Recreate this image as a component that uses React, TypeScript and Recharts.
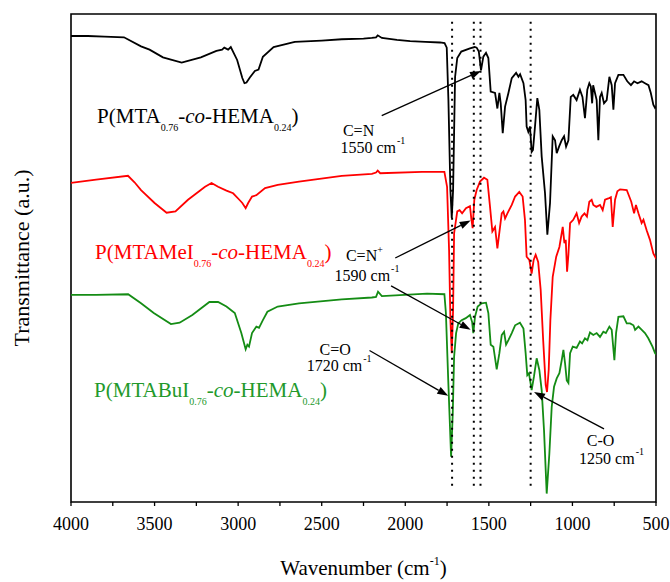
import React from 'react';
import { ComposedChart, Line, XAxis, YAxis, ReferenceLine, ReferenceDot, ReferenceArea } from 'recharts';

const FONT = '"Liberation Serif", "Times New Roman", serif';
const RED = '#ff0000';
const GREEN = '#148c14';
const GREEN_TEXT = '#22992a';

// [wavenumber (cm-1), transmittance (a.u., traces offset)]
const mtaSpectrum: [number, number][] = [
  [4000, 6.66], [3900, 6.66], [3800, 6.65], [3683, 6.64], [3581, 6.5], [3530, 6.45], [3450, 6.33],
  [3338, 6.25], [3223, 6.33], [3130, 6.43], [3096, 6.45], [3083, 6.48], [3060, 6.45], [3044, 6.49],
  [3006, 6.29], [2975, 6.01], [2962, 5.93], [2950, 5.94], [2930, 6.02], [2900, 6.12], [2878, 6.14],
  [2852, 6.34], [2788, 6.49], [2661, 6.57], [2500, 6.59], [2380, 6.61], [2250, 6.62], [2200, 6.63],
  [2175, 6.64], [2165, 6.67], [2140, 6.63], [2050, 6.6], [1971, 6.58], [1880, 6.57], [1792, 6.56],
  [1765, 6.55], [1752, 6.48], [1742, 5.67], [1730, 4.28], [1722, 3.85], [1714, 4.28], [1708, 5.16],
  [1702, 6.03], [1689, 6.32], [1665, 6.42], [1613, 6.47], [1585, 6.49], [1573, 6.48], [1560, 6.42],
  [1547, 6.13], [1533, 6.34], [1517, 6.4], [1503, 6.32], [1489, 5.8], [1463, 5.78], [1449, 5.54],
  [1437, 5.78], [1429, 5.62], [1417, 5.16], [1403, 5.57], [1383, 5.78], [1363, 6.01], [1337, 6.09],
  [1323, 6.03], [1313, 6.07], [1293, 5.93], [1280, 5.67], [1274, 5.26], [1264, 5.18], [1254, 5.26],
  [1244, 4.87], [1236, 4.9], [1224, 5.26], [1210, 5.7], [1198, 5.52], [1184, 4.8], [1164, 4.23],
  [1150, 3.59], [1134, 4.08], [1118, 5.11], [1104, 5.05], [1094, 4.85], [1080, 4.95], [1064, 5.05],
  [1050, 5.11], [1038, 4.95], [1024, 5.05], [1010, 5.72], [995, 5.75], [975, 5.67], [955, 5.83],
  [940, 5.72], [925, 5.39], [911, 5.83], [899, 5.93], [890, 5.88], [882, 5.62], [876, 5.9],
  [855, 5.67], [845, 5.05], [835, 5.72], [825, 5.78], [811, 5.62], [795, 5.67], [779, 6.03],
  [765, 5.9], [755, 5.52], [745, 5.93], [725, 6.06], [695, 6.06], [672, 5.96], [650, 5.9],
  [631, 5.96], [611, 5.93], [586, 5.96], [566, 5.93], [545, 5.9], [531, 5.78], [516, 5.6],
  [506, 5.55], [500, 5.57],
];

const mtaMeISpectrum: [number, number][] = [
  [4000, 4.39], [3850, 4.44], [3659, 4.5], [3620, 4.4], [3581, 4.28], [3500, 4.08], [3428, 3.93],
  [3375, 3.95], [3300, 4.13], [3198, 4.33], [3159, 4.39], [3120, 4.33], [3070, 4.27], [3030, 4.23],
  [2993, 4.13], [2975, 4.08], [2955, 4.0], [2940, 4.08], [2917, 4.18], [2891, 4.2], [2839, 4.31],
  [2763, 4.36], [2636, 4.41], [2380, 4.5], [2200, 4.53], [2175, 4.55], [2165, 4.58], [2150, 4.54],
  [1900, 4.56], [1766, 4.56], [1750, 4.33], [1738, 3.35], [1730, 2.27], [1722, 1.76], [1714, 2.43],
  [1708, 3.61], [1689, 3.95], [1675, 3.97], [1660, 3.92], [1637, 4.0], [1613, 4.03], [1605, 3.84],
  [1597, 3.69], [1587, 4.13], [1573, 4.28], [1553, 4.41], [1529, 4.47], [1509, 4.44], [1493, 4.02],
  [1479, 3.64], [1463, 3.71], [1449, 3.38], [1433, 3.71], [1423, 3.92], [1413, 3.95], [1403, 3.84],
  [1389, 3.92], [1363, 4.05], [1343, 4.18], [1318, 4.25], [1298, 4.18], [1284, 3.82], [1274, 3.25],
  [1258, 3.2], [1244, 2.99], [1232, 3.2], [1220, 3.28], [1205, 3.17], [1190, 2.74], [1175, 1.96],
  [1160, 1.27], [1152, 1.16], [1142, 1.5], [1132, 2.27], [1118, 2.94], [1097, 3.25], [1078, 3.4],
  [1058, 3.71], [1048, 3.46], [1040, 3.51], [1032, 3.02], [1024, 3.28], [1014, 3.77], [995, 3.82],
  [975, 3.92], [960, 3.77], [945, 3.87], [928, 3.92], [913, 3.87], [899, 4.1], [885, 4.13],
  [875, 4.05], [857, 4.02], [835, 4.05], [819, 3.97], [805, 4.13], [785, 4.15], [770, 4.17],
  [759, 3.71], [745, 4.13], [731, 4.26], [715, 4.29], [675, 4.28], [660, 4.18], [648, 4.1],
  [631, 3.92], [620, 4.05], [605, 3.92], [586, 3.77], [575, 3.82], [556, 3.66], [536, 3.51],
  [516, 3.3], [505, 3.25], [500, 3.22],
];

const mtaBuISpectrum: [number, number][] = [
  [4000, 2.66], [3850, 2.66], [3658, 2.67], [3581, 2.53], [3505, 2.38], [3402, 2.21], [3350, 2.23],
  [3274, 2.35], [3172, 2.55], [3120, 2.55], [3070, 2.48], [3020, 2.38], [2981, 2.07], [2955, 1.82],
  [2945, 1.89], [2935, 1.86], [2917, 2.07], [2891, 2.17], [2875, 2.15], [2852, 2.27], [2825, 2.4],
  [2763, 2.48], [2636, 2.53], [2380, 2.59], [2200, 2.62], [2175, 2.63], [2163, 2.71], [2140, 2.64],
  [1870, 2.68], [1766, 2.67], [1757, 2.38], [1743, 1.34], [1726, 0.16], [1716, 0.83], [1708, 1.7],
  [1696, 2.07], [1683, 2.22], [1663, 2.27], [1638, 2.3], [1613, 2.35], [1600, 2.24], [1593, 2.07],
  [1583, 2.32], [1567, 2.48], [1543, 2.53], [1517, 2.54], [1503, 2.38], [1489, 1.89], [1473, 1.86],
  [1453, 1.51], [1437, 1.76], [1423, 2.04], [1409, 2.09], [1397, 1.89], [1383, 1.96], [1363, 2.07],
  [1343, 2.19], [1314, 2.23], [1293, 2.14], [1280, 1.76], [1270, 1.42], [1260, 1.45], [1244, 1.19],
  [1230, 1.4], [1214, 1.68], [1198, 1.5], [1184, 1.19], [1170, 0.57], [1154, -0.41], [1138, 0.21],
  [1124, 0.93], [1110, 1.24], [1094, 1.37], [1078, 1.45], [1064, 1.65], [1054, 1.81], [1044, 1.6],
  [1034, 1.34], [1024, 1.3], [1014, 1.76], [998, 1.86], [975, 1.84], [955, 1.94], [942, 1.91],
  [925, 1.99], [910, 1.96], [895, 2.08], [875, 2.04], [855, 2.07], [835, 2.01], [815, 2.09],
  [800, 2.07], [779, 2.17], [765, 2.12], [749, 1.65], [739, 2.07], [725, 2.32], [695, 2.33],
  [675, 2.22], [655, 2.22], [635, 2.19], [625, 2.12], [605, 2.17], [585, 2.12], [566, 2.07],
  [546, 1.99], [521, 1.86], [506, 1.76], [500, 1.74],
];

const xTicks = [4000, 3750, 3500, 3250, 3000, 2750, 2500, 2250, 2000, 1750, 1500, 1250, 1000, 750, 500];
const yTicks = [0, 1, 2, 3, 4, 5, 6];
const bandLines = [1720, 1590, 1550, 1250];

const Y_MIN = -0.54;
const Y_MAX = 7;

// annotation layout (data coordinates)
const arrows = [
  { from: [2141, 5.43], to: [1547, 6.12] },
  { from: [2060, 3.23], to: [1609, 3.81] },
  { from: [2085, 2.8], to: [1609, 2.12] },
  { from: [2214, 1.8], to: [1743, 1.1] },
  { from: [811, 0.59], to: [1230, 1.16] },
];

const notes = [
  { at: [2373, 5.12], head: 'C=N', sup: '', band: '1550 cm', dx: -2.5, dy: 17 },
  { at: [2355, 3.18], head: 'C=N', sup: '+', band: '1590 cm', dx: -11.4, dy: 20 },
  { at: [2513, 1.73], head: 'C=O', sup: '', band: '1720 cm', dx: -12.8, dy: 15.5 },
  { at: [914, 0.33], head: 'C-O', sup: '', band: '1250 cm', dx: -7.7, dy: 18.3 },
];

const seriesLabels = [
  { at: [3844, 5.31], name: 'MTA', color: '#000' },
  { at: [3856, 3.21], name: 'MTAMeI', color: RED },
  { at: [3862, 1.08], name: 'MTABuI', color: GREEN_TEXT },
];

const toRows = (s: [number, number][]) => s.map(([wn, t]) => ({ wn, t }));

const Arrow = (p: any) => {
  const { x1, y1, x2, y2 } = p;
  const a = Math.atan2(y2 - y1, x2 - x1);
  const len = 11;
  const half = 3.8;
  const bx = x2 - len * Math.cos(a);
  const by = y2 - len * Math.sin(a);
  const nx = -Math.sin(a) * half;
  const ny = Math.cos(a) * half;
  return (
    <g>
      <line x1={x1} y1={y1} x2={bx} y2={by} stroke="#000" strokeWidth={1.3} />
      <polygon points={`${x2},${y2} ${bx + nx},${by + ny} ${bx - nx},${by - ny}`} fill="#000" />
    </g>
  );
};

const Note = ({ cx, cy, n }: any) => (
  <g fontFamily={FONT} fontSize={16} fill="#000">
    <text x={cx} y={cy}>
      {n.head}
      {n.sup && <tspan fontSize={10} dy={-8}>{n.sup}</tspan>}
    </text>
    <text x={cx + n.dx} y={cy + n.dy}>
      {n.band}
      <tspan fontSize={10} dx={1} dy={-9}>-1</tspan>
    </text>
  </g>
);

const SeriesLabel = ({ cx, cy, s }: any) => (
  <text x={cx} y={cy} fontFamily={FONT} fontSize={21} fill={s.color}>
    P({s.name}
    <tspan fontSize={10} dy={8}>0.76</tspan>
    <tspan dy={-8}>-</tspan>
    <tspan fontStyle="italic">co</tspan>
    <tspan>-HEMA</tspan>
    <tspan fontSize={10} dy={8}>0.24</tspan>
    <tspan dy={-8}>)</tspan>
  </text>
);

const XTick = (p: any) => {
  const { x, y, payload } = p;
  if (payload.value % 500 !== 0) return null;
  return (
    <text x={x} y={y} dy={22} textAnchor="middle" fontFamily={FONT} fontSize={18} fill="#000">
      {payload.value}
    </text>
  );
};

const XTitle = (p: any) => {
  const vb = p.viewBox || { x: 71, width: 585, y: 502 };
  return (
    <text x={vb.x + vb.width / 2} y={575} textAnchor="middle" fontFamily={FONT} fontSize={21} fill="#000">
      Wavenumber (cm
      <tspan fontSize={12} dy={-10}>-1</tspan>
      <tspan dy={10}>)</tspan>
    </text>
  );
};

const YTitle = () => (
  <text
    x={29}
    y={258}
    transform="rotate(-90 29 258)"
    textAnchor="middle"
    fontFamily={FONT}
    fontSize={22}
    fill="#000"
  >
    Transmittance (a.u.)
  </text>
);

export default function App() {
  return (
    <div style={{ width: 670, height: 582, background: '#fff' }}>
      <style>{'body{margin:0}'}</style>
      <ComposedChart width={670} height={582} margin={{ top: 14, right: 14, bottom: 50, left: 71 }}>
        <XAxis
          type="number"
          dataKey="wn"
          domain={[500, 4000]}
          reversed
          allowDataOverflow
          ticks={xTicks}
          interval={0}
          tickSize={4}
          tickLine={{ stroke: '#000', strokeWidth: 1.3 }}
          axisLine={false}
          tick={<XTick />}
          height={30}
          label={{ content: <XTitle /> }}
        />
        <YAxis
          yAxisId="l"
          orientation="left"
          mirror
          type="number"
          domain={[Y_MIN, Y_MAX]}
          allowDataOverflow
          ticks={yTicks}
          tick={false}
          tickSize={4}
          tickLine={{ stroke: '#000', strokeWidth: 1.3 }}
          axisLine={false}
          width={10}
          label={{ content: <YTitle /> }}
        />
        <YAxis
          yAxisId="r"
          orientation="right"
          mirror
          type="number"
          domain={[Y_MIN, Y_MAX]}
          allowDataOverflow
          ticks={yTicks}
          tick={false}
          tickSize={4}
          tickLine={{ stroke: '#000', strokeWidth: 1.3 }}
          axisLine={false}
          width={10}
        />
        <Line yAxisId="l" data={toRows(mtaSpectrum)} dataKey="t" type="linear" stroke="#000" strokeWidth={1.8} dot={false} activeDot={false} isAnimationActive={false} />
        <Line yAxisId="l" data={toRows(mtaMeISpectrum)} dataKey="t" type="linear" stroke={RED} strokeWidth={1.8} dot={false} activeDot={false} isAnimationActive={false} />
        <Line yAxisId="l" data={toRows(mtaBuISpectrum)} dataKey="t" type="linear" stroke={GREEN} strokeWidth={1.8} dot={false} activeDot={false} isAnimationActive={false} />
        {bandLines.map((wn) => (
          <ReferenceLine
            key={wn}
            yAxisId="l"
            segment={[{ x: wn, y: 6.88 }, { x: wn, y: -0.36 }]}
            stroke="#000"
            strokeWidth={2}
            strokeDasharray="2 5"
            ifOverflow="visible"
          />
        ))}
        {arrows.map((a, i) => (
          <ReferenceLine
            key={'a' + i}
            yAxisId="l"
            segment={[{ x: a.from[0], y: a.from[1] }, { x: a.to[0], y: a.to[1] }]}
            shape={Arrow}
            ifOverflow="visible"
          />
        ))}
        {notes.map((n, i) => (
          <ReferenceDot
            key={'n' + i}
            yAxisId="l"
            x={n.at[0]}
            y={n.at[1]}
            r={0}
            ifOverflow="visible"
            shape={(p: any) => <Note cx={p.cx} cy={p.cy} n={n} />}
          />
        ))}
        {seriesLabels.map((s, i) => (
          <ReferenceDot
            key={'s' + i}
            yAxisId="l"
            x={s.at[0]}
            y={s.at[1]}
            r={0}
            ifOverflow="visible"
            shape={(p: any) => <SeriesLabel cx={p.cx} cy={p.cy} s={s} />}
          />
        ))}
        <ReferenceArea
          yAxisId="l"
          x1={4000}
          x2={500}
          y1={Y_MIN}
          y2={Y_MAX}
          fill="none"
          stroke="#000"
          strokeWidth={1.6}
          ifOverflow="visible"
        />
      </ComposedChart>
    </div>
  );
}
